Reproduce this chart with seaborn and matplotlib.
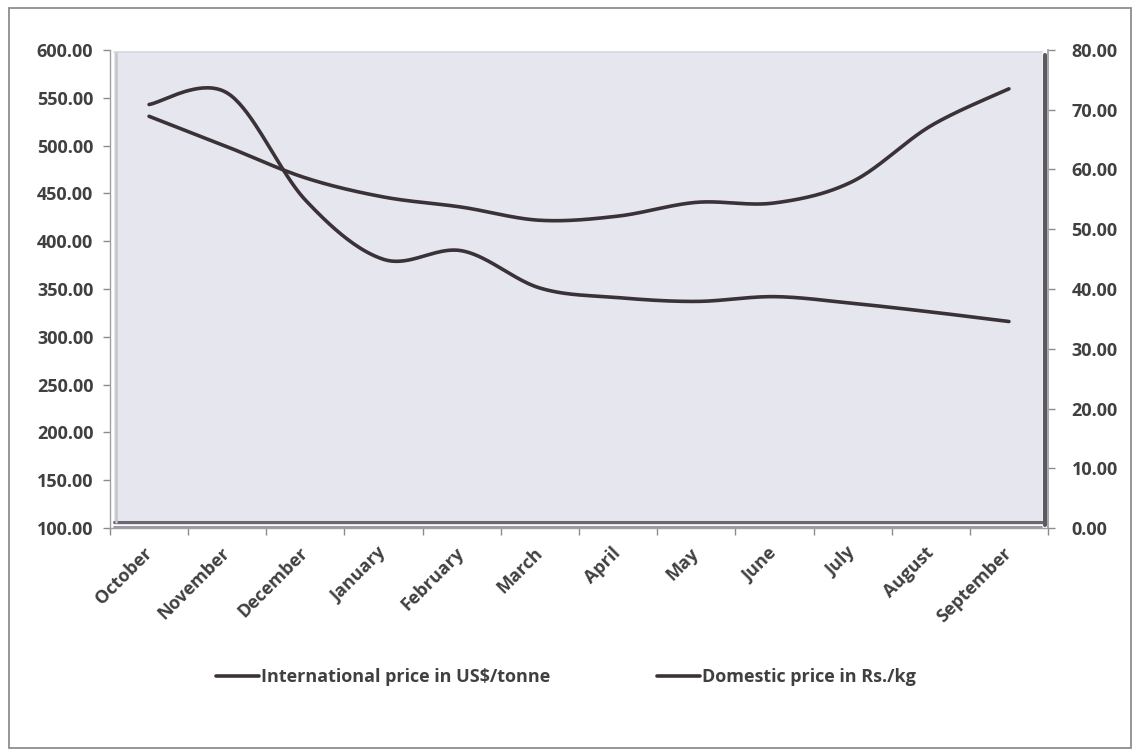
import numpy as np
import pandas as pd
import matplotlib
matplotlib.use('Agg')
import matplotlib.pyplot as plt
from matplotlib.patches import Rectangle
from matplotlib.lines import Line2D
import seaborn as sns

# Data
months = ['October', 'November', 'December', 'January', 'February', 'March',
          'April', 'May', 'June', 'July', 'August', 'September']
intl_price = [543, 555, 443, 381, 390, 351, 341, 337, 342, 335, 326, 316]          # US$/tonne, left axis
domestic_price = [68.9, 63.8, 58.6, 55.4, 53.7, 51.5, 52.2, 54.5, 54.4, 58.0, 67.3, 73.5]  # Rs./kg, right axis

intl_label = 'International price in US$/tonne'
dom_label = 'Domestic price in Rs./kg'

LINE_C = '#3b3237'
TEXT_C = '#404040'
TICK_C = '#8c8c8c'

sns.set_theme(style='white')
plt.rcParams['font.family'] = ['Open Sans', 'DejaVu Sans']
plt.rcParams['font.weight'] = 'bold'


def smooth(vals, n=40):
    # Excel-like smoothed line: cubic bezier between points (Catmull-Rom controls)
    pts = np.column_stack([np.arange(len(vals), dtype=float), np.asarray(vals, dtype=float)])
    p = np.vstack([pts[0], pts, pts[-1]])
    t = np.linspace(0, 1, n)[:, None]
    segs = []
    for i in range(len(pts) - 1):
        p0, p1, p2, p3 = p[i], p[i + 1], p[i + 2], p[i + 3]
        c1 = p1 + (p2 - p0) / 6
        c2 = p2 - (p3 - p1) / 6
        seg = (1 - t) ** 3 * p1 + 3 * (1 - t) ** 2 * t * c1 + 3 * (1 - t) * t ** 2 * c2 + t ** 3 * p2
        segs.append(seg if i == 0 else seg[1:])
    s = np.vstack(segs)
    return pd.DataFrame({'x': s[:, 0], 'y': s[:, 1]})


fig = plt.figure(figsize=(11.36, 7.55), dpi=100)
fig.patch.set_facecolor('white')

# outer chart border
fig.patches.append(Rectangle((9 / 1136, 1 - 748 / 755), 1122 / 1136, 740 / 755,
                             transform=fig.transFigure, fill=False,
                             edgecolor='#8e8e8e', lw=1.3))

ax = fig.add_axes([110 / 1136, 1 - 528 / 755, 938 / 1136, 478 / 755])
ax.set_facecolor('none')

# plot area panel with a slight 3D frame
ax.add_patch(Rectangle((0.004, 0.006), 0.99, 0.99, transform=ax.transAxes,
                       facecolor='#e6e6ee', edgecolor='none', zorder=0))
ax.plot([0.004, 0.994], [0.012, 0.012], transform=ax.transAxes, color='#6f6870', lw=2.2, zorder=1)
ax.plot([0.004, 0.994], [0.003, 0.003], transform=ax.transAxes, color='#8a8590', lw=1.2, zorder=1)
ax.plot([0.997, 0.997], [0.006, 0.99], transform=ax.transAxes, color='#5e5a62', lw=3, zorder=1)
ax.plot([0.006, 0.006], [0.012, 0.996], transform=ax.transAxes, color='#c4c4cc', lw=1.8, zorder=1)
ax.plot([0.004, 0.994], [0.996, 0.996], transform=ax.transAxes, color='#d6d6de', lw=1.2, zorder=1)

sns.lineplot(data=smooth(intl_price), x='x', y='y', sort=False, estimator=None,
             ax=ax, color=LINE_C, lw=2.6, zorder=3)

ax.set_xlim(-0.5, len(months) - 0.5)
ax.set_ylim(100, 600)
ax.set_yticks(np.arange(100, 601, 50))
ax.set_yticklabels([f'{v:.2f}' for v in np.arange(100, 601, 50)])
ax.set_xticks(np.arange(-0.5, len(months)), labels=[''] * (len(months) + 1))
ax.set_xticks(np.arange(len(months)), minor=True)
ax.set_xticklabels(months, minor=True, rotation=45, ha='right', va='center',
                   rotation_mode='anchor', fontsize=13, fontweight='bold', color=TEXT_C)
ax.tick_params(axis='x', which='minor', length=0, pad=16)
ax.tick_params(axis='x', which='major', direction='out', length=5, width=1, color=TICK_C, bottom=True)
ax.tick_params(axis='y', direction='out', length=5, width=1, color=TICK_C, left=True,
               pad=7, labelsize=13, labelcolor=TEXT_C)
for lbl in ax.get_yticklabels():
    lbl.set_fontweight('bold')
ax.set_xlabel('')
ax.set_ylabel('')
for side in ['top', 'right']:
    ax.spines[side].set_visible(False)
ax.spines['left'].set_color('#a0a0a0')
ax.spines['bottom'].set_color('#a0a0a0')
ax.spines['left'].set_linewidth(1)
ax.spines['bottom'].set_linewidth(1)

ax2 = ax.twinx()
sns.lineplot(data=smooth(domestic_price), x='x', y='y', sort=False, estimator=None,
             ax=ax2, color=LINE_C, lw=2.6, zorder=3)
ax2.set_ylim(0, 80)
ax2.set_yticks(np.arange(0, 81, 10))
ax2.set_yticklabels([f'{v:.2f}' for v in np.arange(0, 81, 10)])
ax2.tick_params(axis='y', direction='out', length=5, width=1, color=TICK_C, right=True,
                pad=12, labelsize=13, labelcolor=TEXT_C)
for lbl in ax2.get_yticklabels():
    lbl.set_fontweight('bold')
ax2.set_xlabel('')
ax2.set_ylabel('')
for side in ['top', 'left', 'bottom']:
    ax2.spines[side].set_visible(False)
ax2.spines['right'].set_color('#a0a0a0')

handles = [Line2D([], [], color=LINE_C, lw=2.6), Line2D([], [], color=LINE_C, lw=2.6)]
leg = fig.legend(handles, [intl_label, dom_label], ncol=2, loc='center',
                 bbox_to_anchor=(566 / 1136, 1 - 677 / 755), frameon=False,
                 handlelength=2.4, handletextpad=0.12, columnspacing=5.9,
                 prop={'size': 13, 'weight': 'bold'})
for t in leg.get_texts():
    t.set_color(TEXT_C)

fig.savefig('out.png', dpi=100)
